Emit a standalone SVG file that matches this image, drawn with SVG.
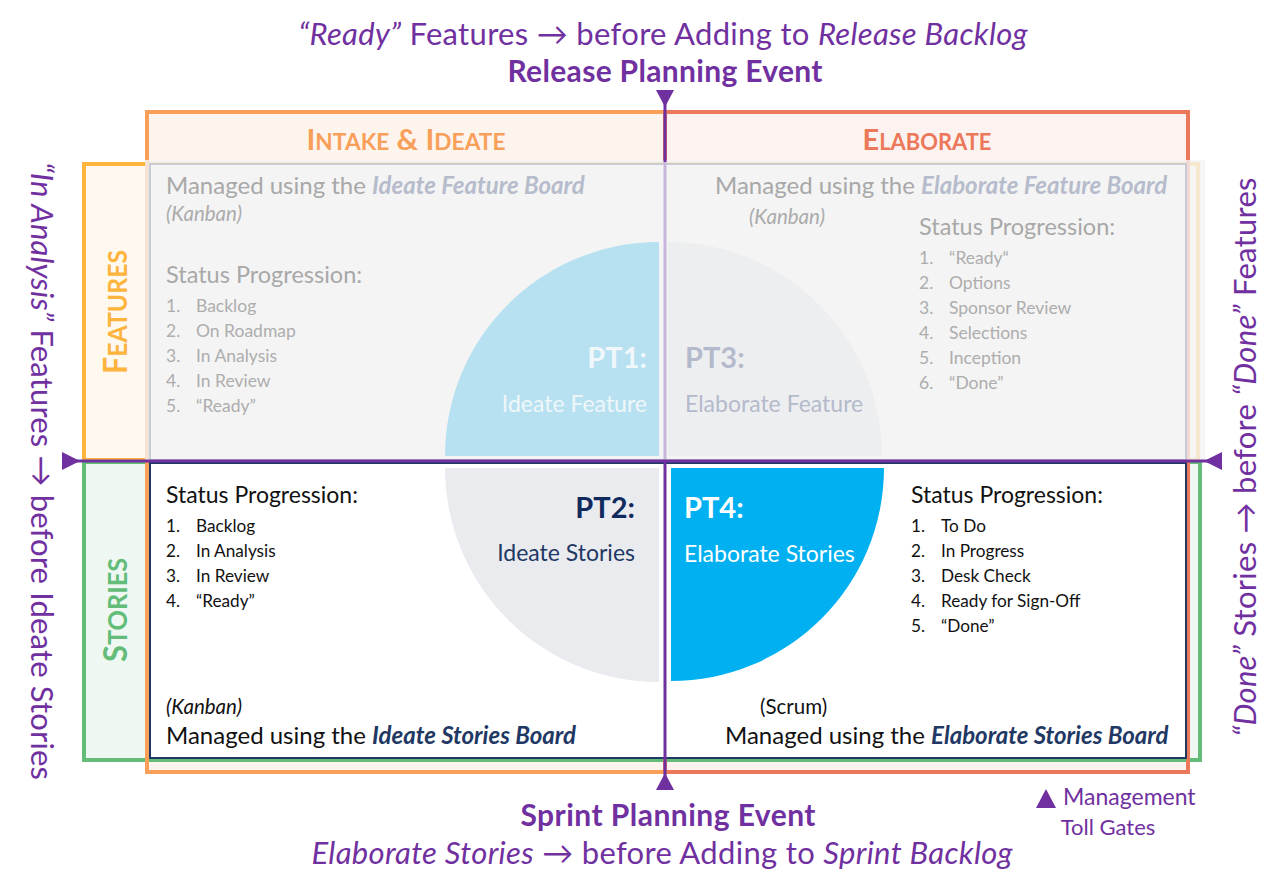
<svg xmlns="http://www.w3.org/2000/svg" width="1284" height="892" viewBox="0 0 1284 892">
<style>
text{font-family:Lato,"Liberation Sans",sans-serif;}
.pur{fill:#7030A0;}
.big{font-size:31px;}
.b{font-weight:bold;}
.i{font-style:italic;}
.fm{font-size:24px;fill:#A8A8A8;}
.fs{font-size:23.5px;fill:#A8A8A8;}
.fbi{font-weight:bold;font-style:italic;fill:#B6BCCB;}
.fk{font-size:20.5px;fill:#ABABAB;font-style:italic;}
.fl{font-size:17.5px;fill:#ADADAD;}
.sm{font-size:24px;fill:#111;}
.ss{font-size:23px;fill:#111;}
.sl{font-size:17.2px;fill:#111;}
.sk{font-size:20.5px;fill:#111;}
.nbi{font-weight:bold;font-style:italic;fill:#1F3864;}
.side{font-size:31px;fill:#7030A0;}
.ptn{font-size:29px;font-weight:bold;}
.ptl{font-size:23px;}
</style>
<rect width="1284" height="892" fill="#FFFFFF"/>
<g id="frames">
<rect x="147" y="112" width="518" height="660" fill="#FEF4EE"/>
<rect x="665" y="112" width="523" height="660" fill="#FCF2EF"/>
<rect id="features-band" x="84" y="164" width="1114" height="296" fill="#FEF8EF" stroke="#FDB43D" stroke-width="4"/>
<rect id="stories-band" x="84" y="462" width="1116" height="298" fill="#EEF7F1" stroke="#63BC78" stroke-width="4"/>
<rect x="147" y="112" width="518" height="660" fill="none" stroke="#F8A05A" stroke-width="4"/>
<rect x="665" y="112" width="523" height="660" fill="none" stroke="#EC785A" stroke-width="4"/>
<rect x="145" y="160" width="1060" height="300" fill="#F4F4F4" opacity="0.8"/>
<rect x="150" y="164" width="1036" height="296" fill="#F4F4F4" stroke="#BAC0CE" stroke-width="1.5"/>
<rect x="150" y="463" width="1036" height="295" fill="#FFFFFF" stroke="#1F3864" stroke-width="2"/>
</g>
<g id="header-intake">
<text x="406" y="150" text-anchor="middle" fill="#F8A05A" font-weight="bold" font-size="29" textLength="199" lengthAdjust="spacingAndGlyphs">I<tspan font-size="22">NTAKE</tspan> &amp; I<tspan font-size="22">DEATE</tspan></text>
</g>
<g id="header-elaborate">
<text x="927" y="150" text-anchor="middle" fill="#EC785A" font-weight="bold" font-size="29" textLength="129" lengthAdjust="spacingAndGlyphs">E<tspan font-size="22">LABORATE</tspan></text>
</g>
<g id="label-features">
<text transform="translate(127,312) rotate(-90)" text-anchor="middle" fill="#FDB43D" font-weight="bold" font-size="33" textLength="124" lengthAdjust="spacingAndGlyphs">F<tspan font-size="27">EATURES</tspan></text>
</g>
<g id="label-stories">
<text transform="translate(127,610) rotate(-90)" text-anchor="middle" fill="#63BC78" font-weight="bold" font-size="33" textLength="104" lengthAdjust="spacingAndGlyphs">S<tspan font-size="27">TORIES</tspan></text>
</g>
<g id="pt1">
<path d="M659,456 L445,456 A214,214 0 0 1 659,242 Z" fill="#B7E1F1"/>
<text x="647" y="368" text-anchor="end" class="ptn" fill="#EFF7FA">PT1:</text>
<text x="647" y="412" text-anchor="end" class="ptl" fill="#EFF7FA">Ideate Feature</text>
</g>
<g id="pt3">
<path d="M668,456 L668,242 A214,214 0 0 1 882,456 Z" fill="#EDEEF0"/>
<text x="685" y="368" class="ptn" fill="#B4BACB">PT3:</text>
<text x="685" y="412" class="ptl" fill="#B4BACB">Elaborate Feature</text>
</g>
<g id="pt2">
<path d="M659,468 L659,682 A214,214 0 0 1 445,468 Z" fill="#E9EBEF"/>
<text x="635" y="518" text-anchor="end" class="ptn" fill="#102A5E">PT2:</text>
<text x="635" y="561" text-anchor="end" class="ptl" fill="#1F3864">Ideate Stories</text>
</g>
<g id="pt4">
<path d="M671,468 L884,468 A213,213 0 0 1 671,681 Z" fill="#00B0F0"/>
<text x="684" y="518" class="ptn" fill="#FFFFFF">PT4:</text>
<text x="684" y="562" class="ptl" fill="#FFFFFF">Elaborate Stories</text>
</g>
<g id="ideate-feature-board">
<text x="166" y="194" class="fm">Managed using the <tspan class="fbi">Ideate Feature Board</tspan></text>
<text x="166" y="221" class="fk">(Kanban)</text>
<text x="166" y="283" class="fs">Status Progression:</text>
<text x="166" y="312" class="fl">1.</text><text x="196" y="312" class="fl">Backlog</text>
<text x="166" y="337" class="fl">2.</text><text x="196" y="337" class="fl">On Roadmap</text>
<text x="166" y="362" class="fl">3.</text><text x="196" y="362" class="fl">In Analysis</text>
<text x="166" y="387" class="fl">4.</text><text x="196" y="387" class="fl">In Review</text>
<text x="166" y="412" class="fl">5.</text><text x="196" y="412" class="fl">“Ready”</text>
</g>
<g id="elaborate-feature-board">
<text x="715" y="194" class="fm">Managed using the <tspan class="fbi">Elaborate Feature Board</tspan></text>
<text x="749" y="224" class="fk">(Kanban)</text>
<text x="919" y="235" class="fs">Status Progression:</text>
<text x="919" y="264" class="fl">1.</text><text x="949" y="264" class="fl">“Ready“</text>
<text x="919" y="289" class="fl">2.</text><text x="949" y="289" class="fl">Options</text>
<text x="919" y="314" class="fl">3.</text><text x="949" y="314" class="fl">Sponsor Review</text>
<text x="919" y="339" class="fl">4.</text><text x="949" y="339" class="fl">Selections</text>
<text x="919" y="364" class="fl">5.</text><text x="949" y="364" class="fl">Inception</text>
<text x="919" y="389" class="fl">6.</text><text x="949" y="389" class="fl">“Done”</text>
</g>
<g id="ideate-stories-board">
<text x="166" y="503" class="ss">Status Progression:</text>
<text x="166" y="532" class="sl">1.</text><text x="196" y="532" class="sl">Backlog</text>
<text x="166" y="557" class="sl">2.</text><text x="196" y="557" class="sl">In Analysis</text>
<text x="166" y="582" class="sl">3.</text><text x="196" y="582" class="sl">In Review</text>
<text x="166" y="607" class="sl">4.</text><text x="196" y="607" class="sl">“Ready”</text>
<text x="166" y="714" class="sk i">(Kanban)</text>
<text x="166" y="744" class="sm">Managed using the <tspan class="nbi">Ideate Stories Board</tspan></text>
</g>
<g id="elaborate-stories-board">
<text x="911" y="503" class="ss">Status Progression:</text>
<text x="911" y="532" class="sl">1.</text><text x="941" y="532" class="sl">To Do</text>
<text x="911" y="557" class="sl">2.</text><text x="941" y="557" class="sl">In Progress</text>
<text x="911" y="582" class="sl">3.</text><text x="941" y="582" class="sl">Desk Check</text>
<text x="911" y="607" class="sl">4.</text><text x="941" y="607" class="sl">Ready for Sign-Off</text>
<text x="911" y="632" class="sl">5.</text><text x="941" y="632" class="sl">“Done”</text>
<text x="760" y="714" class="sk">(Scrum)</text>
<text x="725" y="744" class="sm">Managed using the <tspan class="nbi">Elaborate Stories Board</tspan></text>
</g>
<g id="connectors">
<line x1="665" y1="100" x2="665" y2="162" stroke="#7030A0" stroke-width="3"/>
<line x1="665" y1="162" x2="665" y2="460" stroke="#C8B6DB" stroke-width="3"/>
<line x1="665" y1="460" x2="665" y2="780" stroke="#7030A0" stroke-width="3"/>
<line x1="70" y1="461" x2="1214" y2="461" stroke="#7030A0" stroke-width="3"/>
<polygon points="656,90 674,90 665,107" class="pur"/>
<polygon points="656,790 674,790 665,773" class="pur"/>
<polygon points="62,452 62,470 80,461" class="pur"/>
<polygon points="1222,452 1222,470 1204,461" class="pur"/>
</g>
<g id="release-planning">
<text x="663" y="45" text-anchor="middle" class="pur big" textLength="729" lengthAdjust="spacing"><tspan class="i">“Ready”</tspan> Features → before Adding to <tspan class="i">Release Backlog</tspan></text>
<text x="665" y="82" text-anchor="middle" class="pur b" font-size="30" textLength="315" lengthAdjust="spacing">Release Planning Event</text>
</g>
<g id="sprint-planning">
<text x="668" y="826" text-anchor="middle" class="pur b" font-size="30" textLength="295" lengthAdjust="spacing">Sprint Planning Event</text>
<text x="662" y="864" text-anchor="middle" class="pur big" textLength="701" lengthAdjust="spacing"><tspan class="i">Elaborate Stories</tspan> → before Adding to <tspan class="i">Sprint Backlog</tspan></text>
</g>
<g id="side-left">
<text transform="translate(31,471) rotate(90)" text-anchor="middle" class="side" textLength="618" lengthAdjust="spacing"><tspan class="i">“In Analysis”</tspan> Features → before Ideate Stories</text>
</g>
<g id="side-right">
<text transform="translate(1256,457) rotate(-90)" text-anchor="middle" class="side" textLength="559" lengthAdjust="spacing"><tspan class="i">“Done”</tspan> Stories → before <tspan class="i">“Done”</tspan> Features</text>
</g>
<g id="legend">
<polygon points="1036,808 1056,808 1046,789" class="pur"/>
<text x="1063" y="805" font-size="23" class="pur">Management</text>
<text x="1108" y="835" font-size="22" text-anchor="middle" class="pur">Toll Gates</text>
</g>
</svg>
